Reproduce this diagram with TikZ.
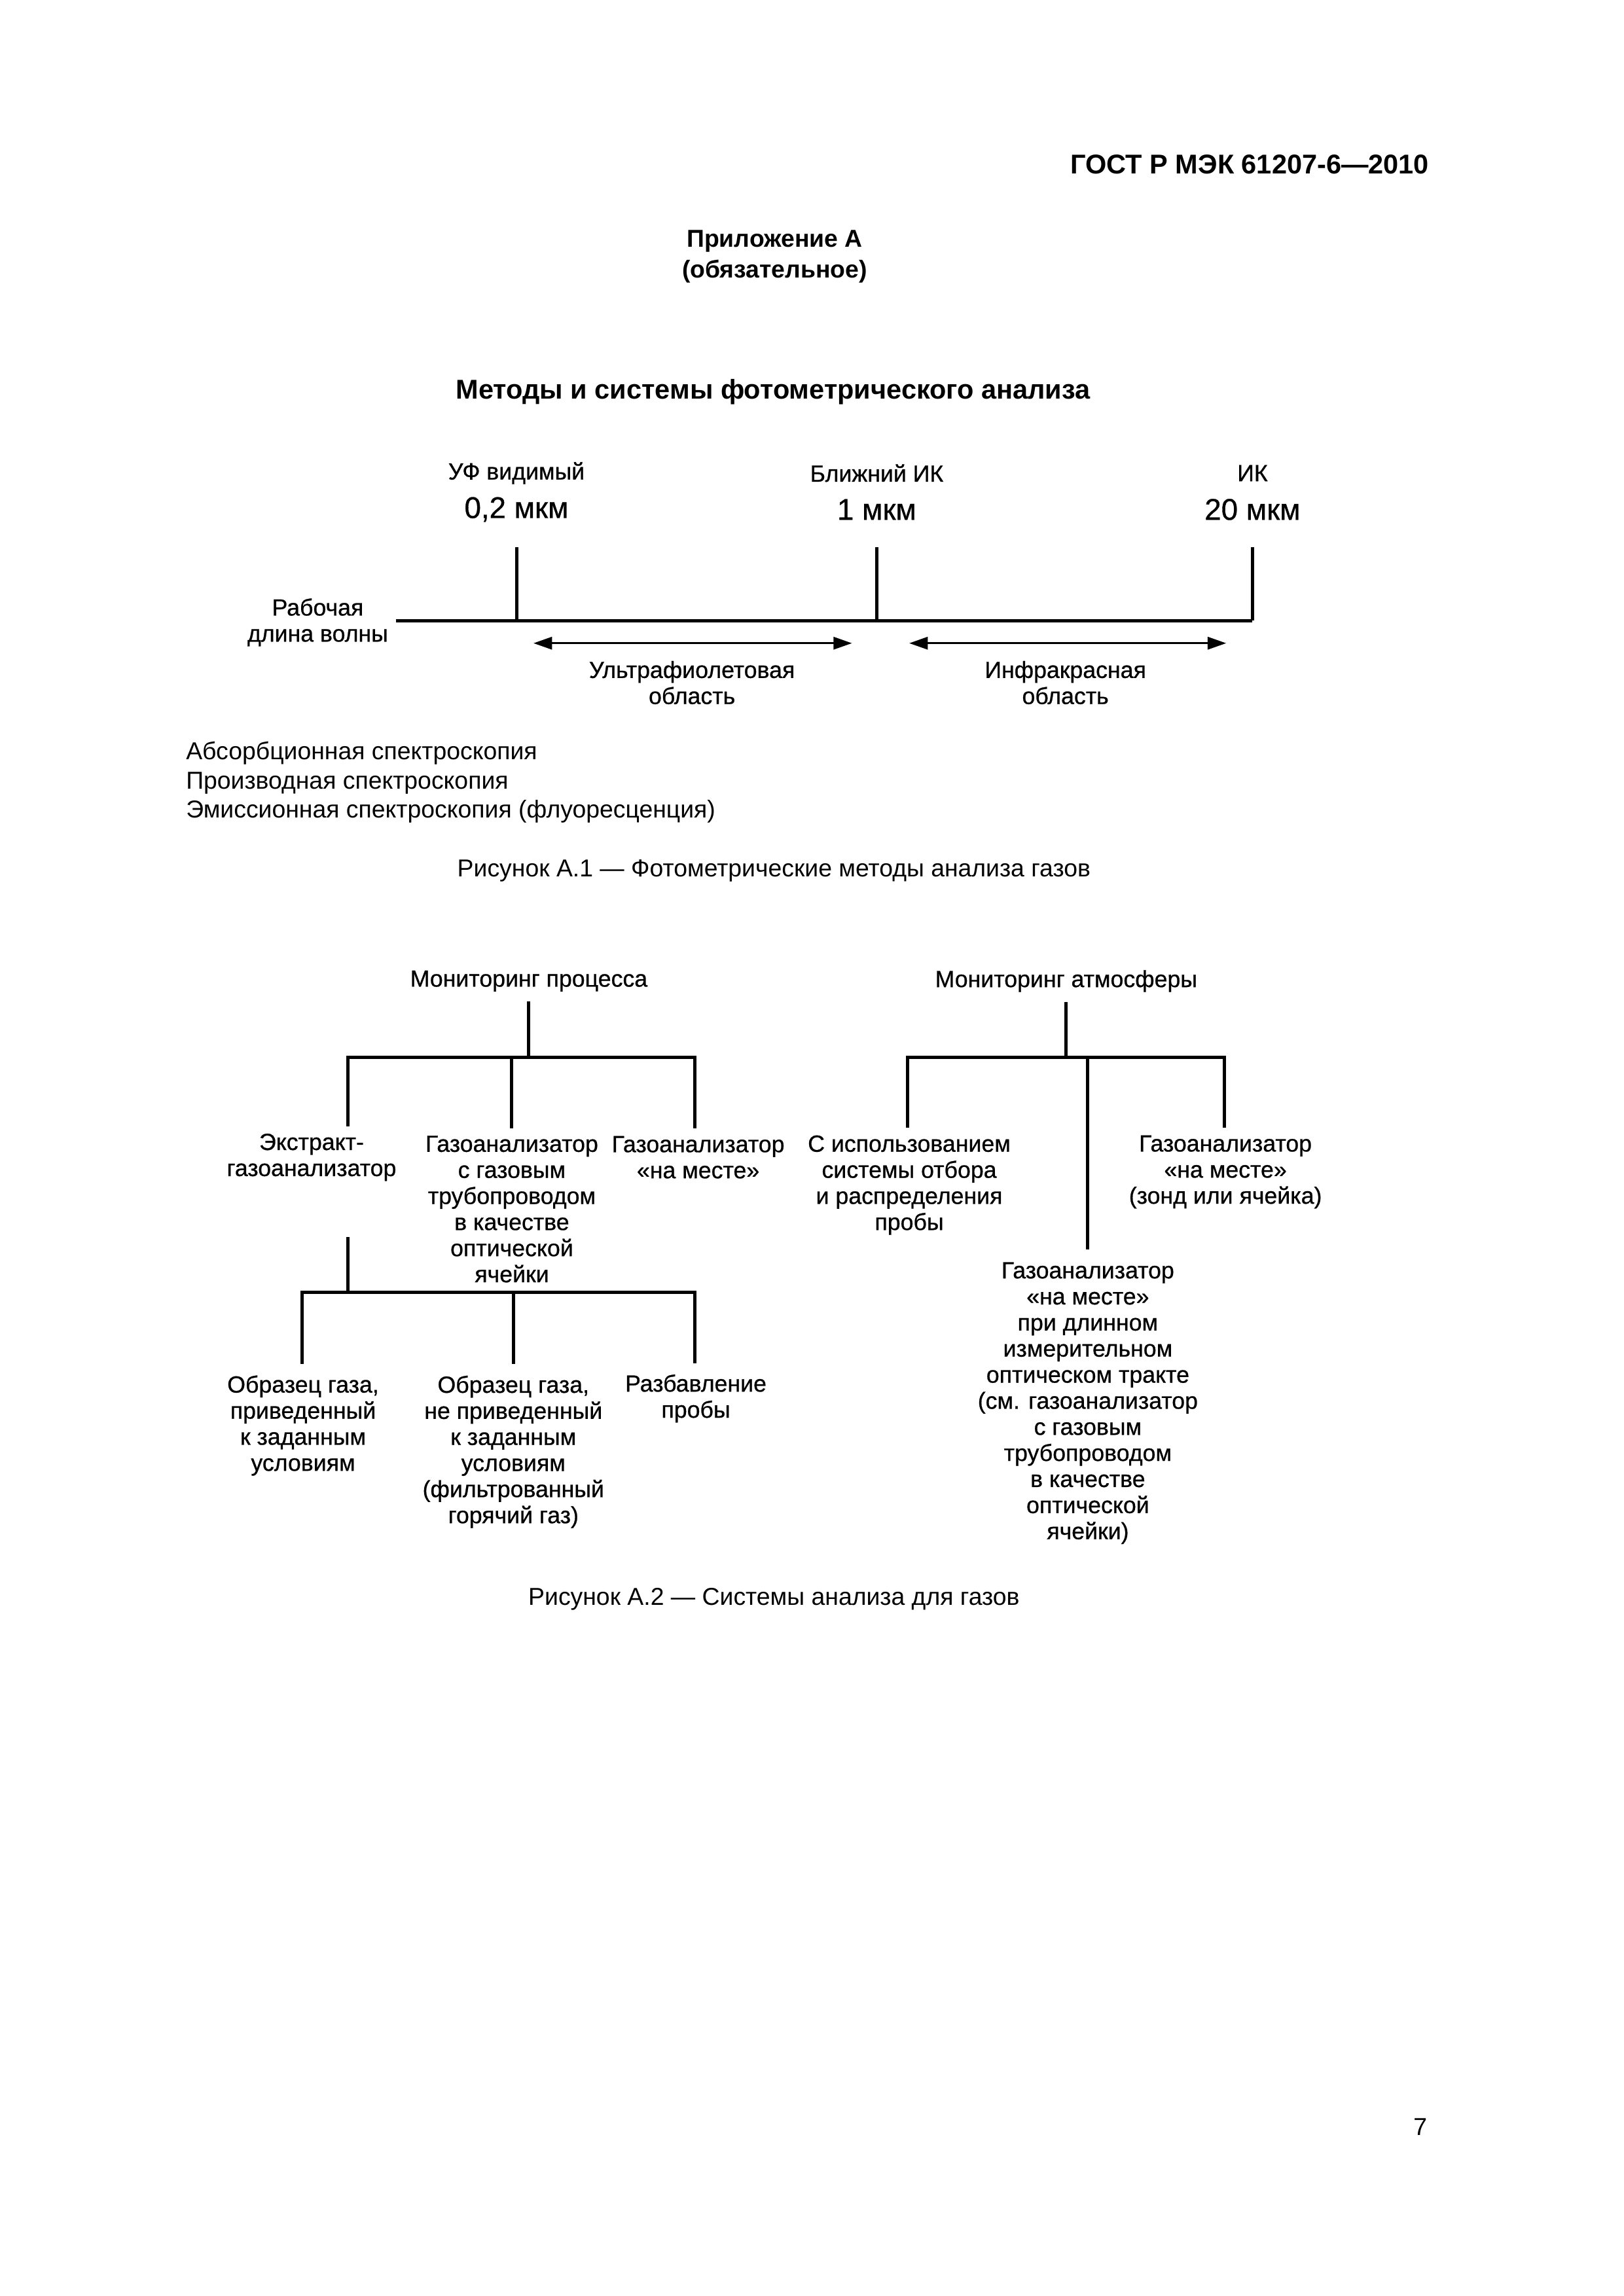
\documentclass[tikz,border=0pt]{standalone}
\usepackage{fontspec}
\setmainfont{Liberation Sans}
\newfontfamily\labelfont[FakeBold=0.7]{Liberation Sans}
\usetikzlibrary{arrows.meta}

\begin{document}
\begin{tikzpicture}[
    x=1mm, y=-1mm,
    head_node/.style={font=\bfseries\fontsize{10pt}{12pt}\selectfont, inner sep=0pt},
    annex_node/.style={font=\bfseries\fontsize{9pt}{11.3pt}\selectfont, align=center, inner sep=0pt},
    title_node/.style={font=\bfseries\fontsize{10pt}{12pt}\selectfont, inner sep=0pt},
    label_node/.style={font=\labelfont\fontsize{8.6pt}{9.6pt}\selectfont, align=center, inner sep=0pt},
    value_node/.style={font=\labelfont\fontsize{11pt}{13pt}\selectfont, inner sep=0pt},
    plain_node/.style={font=\fontsize{9pt}{10.7pt}\selectfont, align=left, inner sep=0pt},
    caption_node/.style={font=\fontsize{9pt}{10.7pt}\selectfont, inner sep=0pt},
    axis_line/.style={line width=1.3pt},
    tick_line/.style={line width=1.2pt},
    range_arrow/.style={{Triangle[length=2.4mm,width=1.6mm]}-{Triangle[length=2.4mm,width=1.6mm]}, line width=0.8pt},
    tree_line/.style={line width=1.2pt}
]
\useasboundingbox (0,0) rectangle (210,297);

% Page head
\node[head_node, anchor=east] (gost) at (184.9,21.3) {ГОСТ Р МЭК 61207-6—2010};
\node[annex_node] (annex) at (100.2,33.2) {Приложение А\\(обязательное)};
\node[title_node] (title) at (100.0,50.7) {Методы и системы фотометрического анализа};

% Wavelength scale
\node[label_node] (uv_name) at (66.8,61.2) {УФ видимый};
\node[value_node] (uv_val) at (66.8,65.9) {0,2 мкм};
\node[label_node] (nir_name) at (113.4,61.2) {Ближний ИК};
\node[value_node] (nir_val) at (113.4,65.9) {1 мкм};
\node[label_node] (ir_name) at (162.0,61.2) {ИК};
\node[value_node] (ir_val) at (162.0,65.9) {20 мкм};
\node[label_node] (wave) at (41.1,80.5) {Рабочая\\длина волны};

\coordinate (tick_top) at (0,70.8);
\coordinate (axis_l) at (51.2,80.3);
\coordinate (axis_r) at (162.0,80.3);
\draw[axis_line] (axis_l) -- (axis_r);
\foreach \v in {uv_val, nir_val, ir_val}
    \draw[tick_line] (\v |- tick_top) -- (\v |- axis_l);

% Regions
\node[label_node] (uv_reg) at (89.5,88.3) {Ультрафиолетовая\\область};
\node[label_node] (ir_reg) at (137.8,88.3) {Инфракрасная\\область};
\coordinate (uv_from) at (69.0,83.2);
\coordinate (uv_to) at (110.2,83.2);
\coordinate (ir_from) at (117.6,83.2);
\coordinate (ir_to) at (158.6,83.2);
\draw[range_arrow] (uv_from) -- (uv_to);
\draw[range_arrow] (ir_from) -- (ir_to);

\node[plain_node, anchor=west] (methods) at (24.0,101.2) {Абсорбционная спектроскопия\\Производная спектроскопия\\Эмиссионная спектроскопия (флуоресценция)};
\node[caption_node] (fig_a1) at (100.1,112.6) {Рисунок А.1 — Фотометрические методы анализа газов};

% Process monitoring
\node[label_node] (proc) at (68.4,126.9) {Мониторинг процесса};
\node[label_node] (extr) at (40.3,149.7) {Экстракт-\\газоанализатор};
\node[label_node] (pipe) at (66.2,156.4) {Газоанализатор\\с газовым\\трубопроводом\\в качестве\\оптической\\ячейки};
\node[label_node] (insitu) at (90.3,149.7) {Газоанализатор\\«на месте»};
\node[label_node] (gas_std) at (39.2,184.4) {Образец газа,\\приведенный\\к заданным\\условиям};
\node[label_node] (gas_raw) at (66.4,187.8) {Образец газа,\\не приведенный\\к заданным\\условиям\\(фильтрованный\\горячий газ)};
\node[label_node] (dilut) at (90.0,180.9) {Разбавление\\пробы};

\coordinate (pbar_l) at (45.0,136.8);
\coordinate (pbar_r) at (89.9,136.8);
\coordinate (sbar_l) at (39.1,167.2);
\coordinate (sbar_r) at (89.9,167.2);

\draw[tree_line, shorten <=1.2mm] (proc.south) -- (proc.south |- pbar_l);
\draw[tree_line, shorten <=0.9mm, shorten >=0.9mm] (pbar_l |- extr.north) -- (pbar_l) -- (pbar_r) -- (pbar_r |- insitu.north);
\draw[tree_line, shorten >=0.9mm] (pipe |- pbar_l) -- (pipe.north);
\draw[tree_line, shorten <=7.2mm] (pbar_l |- extr.south) -- (pbar_l |- sbar_l);
\draw[tree_line, shorten <=1.4mm, shorten >=1.4mm] (sbar_l |- gas_std.north) -- (sbar_l) -- (sbar_r) -- (sbar_r |- dilut.north);
\draw[tree_line, shorten >=1.4mm] (gas_raw |- sbar_l) -- (gas_raw.north);

% Atmosphere monitoring
\node[label_node] (atm) at (137.9,126.9) {Мониторинг атмосферы};
\node[label_node] (sampl) at (117.6,153.3) {С использованием\\системы отбора\\и распределения\\пробы};
\node[label_node] (probe) at (158.5,151.6) {Газоанализатор\\«на месте»\\(зонд или ячейка)};
\node[label_node] (longp) at (140.7,181.5) {Газоанализатор\\«на месте»\\при длинном\\измерительном\\оптическом тракте\\(см. газоанализатор\\с газовым\\трубопроводом\\в качестве\\оптической\\ячейки)};

\coordinate (abar_l) at (117.4,136.8);
\coordinate (abar_r) at (158.4,136.8);

\draw[tree_line, shorten <=1.2mm] (atm.south) -- (atm.south |- abar_l);
\draw[tree_line, shorten <=0.9mm, shorten >=0.9mm] (abar_l |- sampl.north) -- (abar_l) -- (abar_r) -- (abar_r |- probe.north);
\draw[tree_line, shorten >=1.6mm] (longp |- abar_l) -- (longp.north);

\node[caption_node] (fig_a2) at (100.1,206.9) {Рисунок А.2 — Системы анализа для газов};
\node[caption_node] (page_no) at (183.7,275.1) {7};

\end{tikzpicture}
\end{document}
